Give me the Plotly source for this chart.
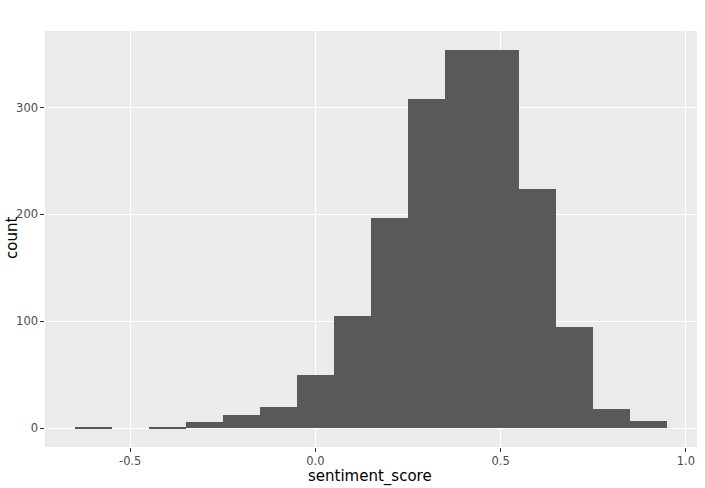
import plotly.graph_objects as go

bin_centers = [-0.6, -0.5, -0.4, -0.3, -0.2, -0.1, 0.0, 0.1, 0.2, 0.3, 0.4, 0.5, 0.6, 0.7, 0.8, 0.9]
counts = [1, 0, 1, 6, 12, 20, 50, 105, 197, 308, 354, 354, 224, 95, 18, 7]
x_ticks = [-0.5, 0.0, 0.5, 1.0]
x_tick_labels = ["-0.5", "0.0", "0.5", "1.0"]
y_ticks = [0, 100, 200, 300]
y_tick_labels = ["0", "100", "200", "300"]

fig = go.Figure()
fig.add_trace(go.Bar(
    x=bin_centers, y=counts, width=0.1,
    marker=dict(color="rgba(89,89,89,1)", line=dict(width=0)),
    hoverinfo="x+y", showlegend=False,
))

tickfont = dict(family="DejaVu Sans", size=11.5, color="rgba(77,77,77,1)")
titlefont = dict(family="DejaVu Sans", size=15, color="black")

plot_w = 705 - 45 - 8
plot_h = 488 - 31 - 41

fig.update_layout(
    width=705, height=488,
    margin=dict(l=45, r=8, t=31, b=41),
    paper_bgcolor="white",
    plot_bgcolor="rgba(235,235,235,1)",
    bargap=0,
    xaxis=dict(
        range=[-0.73, 1.03], tickmode="array", tickvals=x_ticks, ticktext=x_tick_labels,
        ticks="outside", ticklen=3.65, tickwidth=0.66, tickcolor="rgba(51,51,51,1)",
        tickfont=tickfont, showgrid=True, gridcolor="white", gridwidth=1.3,
        zeroline=False, showline=False, automargin=False,
    ),
    yaxis=dict(
        range=[-17.7, 371.7], tickmode="array", tickvals=y_ticks, ticktext=y_tick_labels,
        ticks="outside", ticklen=3.65, tickwidth=0.66, tickcolor="rgba(51,51,51,1)",
        tickfont=tickfont, showgrid=True, gridcolor="white", gridwidth=1.3,
        zeroline=False, showline=False, automargin=False,
    ),
    annotations=[
        dict(text="sentiment_score", x=(370 - 45) / plot_w, xref="paper",
             y=-(476 - 447) / plot_h, yref="paper",
             yanchor="middle", xanchor="center", showarrow=False, font=titlefont),
        dict(text="count", x=-(45 - 12) / plot_w, xref="paper",
             y=(447 - 238) / plot_h, yref="paper",
             xanchor="center", yanchor="middle",
             textangle=-90, showarrow=False, font=titlefont),
    ],
)

fig.write_html("out.html", config={"displayModeBar": False},
               post_script="document.body.style.margin='0';")
